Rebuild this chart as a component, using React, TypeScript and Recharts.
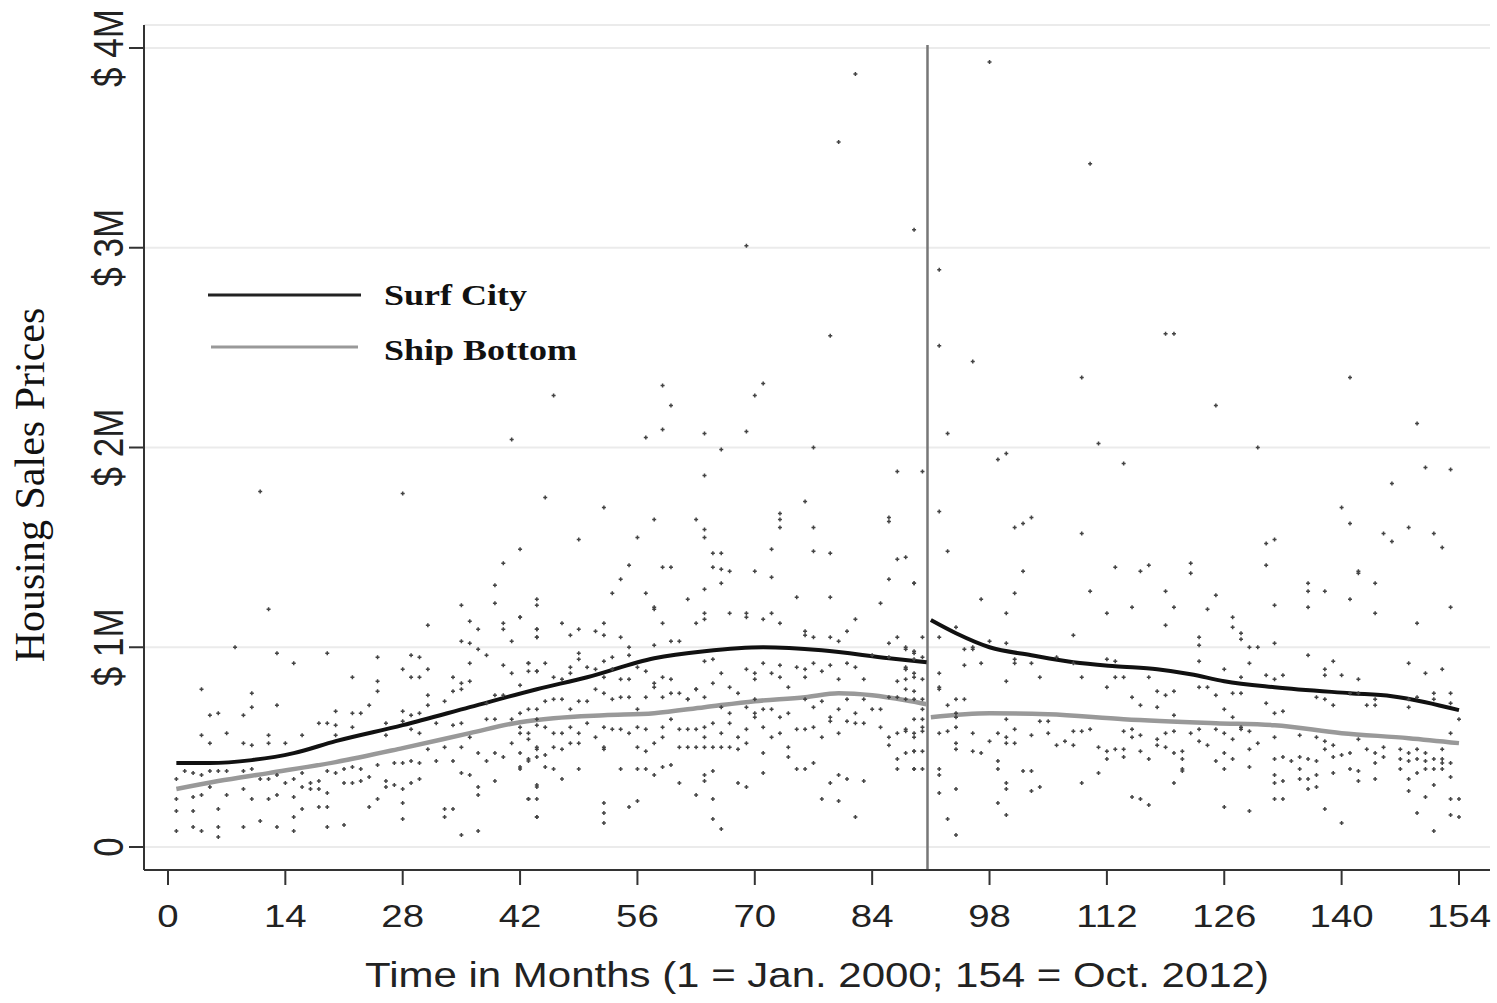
import {
  ComposedChart, Scatter, Line, XAxis, YAxis, CartesianGrid, ReferenceLine, Label,
} from 'recharts';

// fitted price curves, [month, price in $M]
const surfCityBefore = [
  [1, 0.42], [5, 0.42], [10, 0.435], [15, 0.47], [20, 0.53], [28, 0.61], [36, 0.7], [44, 0.79],
  [50, 0.85], [58, 0.945], [64, 0.98], [71, 1.0], [78, 0.985], [86, 0.945], [90.5, 0.925],
];
const surfCityAfter = [
  [91, 1.136], [94, 1.07], [98, 1.0], [103, 0.96], [108, 0.925], [113, 0.905], [118, 0.89],
  [122, 0.865], [126, 0.83], [132, 0.8], [141, 0.77], [146, 0.755], [150, 0.725], [154, 0.685],
];
const shipBottomBefore = [
  [1, 0.29], [6, 0.33], [12, 0.37], [20, 0.425], [28, 0.495], [36, 0.57], [42, 0.625], [46, 0.645],
  [52, 0.66], [58, 0.67], [64, 0.7], [70, 0.73], [76, 0.75], [80, 0.77], [84, 0.76], [88, 0.735], [90.5, 0.715],
];
const shipBottomAfter = [
  [91, 0.65], [98, 0.67], [105, 0.665], [114, 0.64], [125, 0.62], [132, 0.61], [140, 0.57], [148, 0.545], [154, 0.52],
];

// individual sales, [month, price in $M]
const salesEarly = [
  [40, 1.42], [39, 1.31], [39, 1.22], [35, 1.21], [42, 1.15], [12, 1.19], [31, 1.11], [36, 1.13], [37, 1.09], [40, 1.12],
  [40, 1.09], [44, 1.09], [44, 1.05], [8, 1.0], [13, 0.97], [15, 0.92], [19, 0.97], [25, 0.95], [29, 0.96], [30, 0.95],
  [35, 1.03], [36, 1.02], [37, 0.99], [38, 0.96], [41, 1.03], [36, 0.92], [40, 0.91], [43, 0.92], [44, 0.88], [4, 0.79],
  [10, 0.77], [22, 0.85], [25, 0.78], [25, 0.83], [28, 0.89], [29, 0.85], [30, 0.85], [31, 0.89], [34, 0.85], [35, 0.82],
  [36, 0.83], [42, 0.81], [41, 0.87], [43, 0.88],
  [5, 0.66], [6, 0.67], [9, 0.66], [10, 0.7], [13, 0.71], [20, 0.68], [22, 0.67], [23, 0.67], [24, 0.71], [26, 0.62],
  [28, 0.68], [29, 0.66], [30, 0.67], [31, 0.71], [31, 0.76], [33, 0.73], [34, 0.78], [35, 0.79], [38, 0.72], [39, 0.76], [40, 0.76],
  [4, 0.56], [5, 0.52], [7, 0.57], [9, 0.52], [10, 0.51], [12, 0.56], [12, 0.52], [14, 0.52], [16, 0.56], [18, 0.62],
  [19, 0.62], [20, 0.61], [20, 0.56], [22, 0.6], [26, 0.56], [28, 0.63], [29, 0.59], [30, 0.57], [32, 0.62], [34, 0.61],
  [35, 0.62], [38, 0.64], [39, 0.64], [41, 0.64], [42, 0.6], [43, 0.57], [44, 0.64],
  [1, 0.34], [2, 0.38], [3, 0.37], [4, 0.36], [5, 0.38], [6, 0.38], [7, 0.38], [9, 0.38], [10, 0.39], [11, 0.34],
  [12, 0.34], [13, 0.36], [14, 0.32], [15, 0.34], [16, 0.37], [17, 0.32], [18, 0.33], [19, 0.38], [20, 0.37], [21, 0.39],
  [22, 0.4], [23, 0.39], [24, 0.35], [25, 0.41], [26, 0.33], [27, 0.42], [28, 0.42], [29, 0.43], [30, 0.42], [31, 0.49],
  [32, 0.43], [33, 0.5], [34, 0.43], [35, 0.5], [36, 0.55], [37, 0.47], [38, 0.43], [39, 0.47], [40, 0.45], [41, 0.52],
  [42, 0.4], [43, 0.43], [44, 0.49], [44, 0.45],
  [1, 0.24], [1, 0.18], [3, 0.25], [3, 0.18], [4, 0.26], [5, 0.3], [6, 0.19], [7, 0.26], [9, 0.29], [10, 0.24],
  [12, 0.24], [13, 0.26], [15, 0.25], [16, 0.3], [17, 0.29], [18, 0.29], [19, 0.27], [21, 0.32], [22, 0.32], [23, 0.33],
  [25, 0.24], [26, 0.3], [27, 0.31], [28, 0.29], [28, 0.22], [29, 0.32], [30, 0.34], [33, 0.19], [34, 0.19], [35, 0.37],
  [36, 0.36], [37, 0.26], [37, 0.3], [39, 0.33], [43, 0.24], [44, 0.3], [44, 0.15],
  [1, 0.08], [3, 0.1], [4, 0.08], [6, 0.1], [6, 0.05], [9, 0.1], [11, 0.13], [13, 0.1], [15, 0.08], [15, 0.15],
  [16, 0.19], [18, 0.2], [19, 0.2], [19, 0.1], [21, 0.11], [24, 0.2], [28, 0.14], [33, 0.15], [35, 0.06], [37, 0.08],
];

const salesMid = [
  [45, 1.75], [52, 1.7], [58, 1.64], [63, 1.64], [64, 1.59], [64, 1.55], [73, 1.67], [73, 1.64], [73, 1.6], [76, 1.73],
  [77, 1.6], [49, 1.54], [56, 1.55], [86, 1.65], [86, 1.63], [65, 1.47], [66, 1.47], [65, 1.4], [66, 1.39], [67, 1.38],
  [70, 1.38], [72, 1.49], [77, 1.48], [79, 1.47], [72, 1.35], [87, 1.44], [88, 1.45], [86, 1.34], [89, 1.32], [55, 1.41],
  [59, 1.4], [60, 1.4], [54, 1.34], [44, 1.24], [44, 1.21], [53, 1.27], [57, 1.27], [62, 1.24], [64, 1.29], [66, 1.32],
  [75, 1.25], [79, 1.25], [85, 1.22], [42, 1.15], [47, 1.12], [49, 1.09], [51, 1.08], [52, 1.06], [52, 1.12], [54, 1.05],
  [58, 1.2], [58, 1.19], [59, 1.12], [60, 1.03], [61, 1.03], [63, 1.12], [64, 1.17], [64, 1.14], [67, 1.17], [69, 1.17],
  [69, 1.15], [71, 1.14], [72, 1.17], [73, 1.12], [82, 1.14], [81, 1.08], [76, 1.08], [76, 1.06], [77, 1.05], [79, 1.05],
  [80, 1.03], [87, 1.05], [86, 1.02], [88, 0.99], [44, 1.09], [44, 1.05], [48, 1.06], [49, 0.97], [55, 1.0], [55, 0.96],
  [52, 0.93], [53, 0.95], [58, 1.01], [90, 1.05], [89, 0.97], [88, 0.9],
  [43, 0.92], [44, 0.88], [45, 0.92], [46, 0.85], [47, 0.84], [48, 0.9], [48, 0.87], [49, 0.94], [50, 0.9], [51, 0.89],
  [52, 0.85], [53, 0.89], [54, 0.84], [55, 0.84], [56, 0.9], [57, 0.88], [58, 0.82], [59, 0.85], [60, 0.84], [61, 0.77],
  [62, 0.74], [63, 0.79], [64, 0.93], [65, 0.94], [65, 0.82], [66, 0.87], [67, 0.8], [68, 0.77], [69, 0.89], [70, 0.87],
  [70, 0.84], [71, 0.92], [72, 0.87], [73, 0.91], [73, 0.85], [74, 0.8], [75, 0.9], [76, 0.89], [76, 0.85], [77, 0.92],
  [78, 0.88], [79, 0.91], [80, 0.84], [81, 0.92], [82, 0.9], [83, 0.84], [84, 0.96], [86, 0.95], [87, 0.83], [88, 0.89],
  [89, 0.87], [90, 0.84],
  [42, 0.67], [43, 0.69], [44, 0.69], [45, 0.73], [46, 0.74], [47, 0.74], [48, 0.69], [49, 0.73], [50, 0.73], [51, 0.79],
  [52, 0.77], [53, 0.74], [54, 0.75], [55, 0.75], [56, 0.69], [57, 0.75], [58, 0.8], [59, 0.75], [60, 0.77], [62, 0.74],
  [63, 0.79], [64, 0.75], [66, 0.7], [67, 0.67], [69, 0.7], [70, 0.74], [70, 0.67], [71, 0.69], [72, 0.69], [73, 0.65],
  [74, 0.67], [76, 0.74], [77, 0.7], [78, 0.73], [79, 0.65], [80, 0.69], [81, 0.74], [82, 0.67], [83, 0.74], [84, 0.69],
  [85, 0.69], [86, 0.75], [87, 0.75], [88, 0.79], [89, 0.74], [90, 0.69],
  [42, 0.57], [43, 0.54], [44, 0.61], [45, 0.6], [46, 0.57], [47, 0.57], [48, 0.6], [49, 0.57], [50, 0.62], [51, 0.55],
  [52, 0.6], [52, 0.5], [53, 0.59], [54, 0.59], [55, 0.57], [56, 0.6], [57, 0.59], [59, 0.6], [59, 0.55], [60, 0.64],
  [61, 0.59], [62, 0.59], [63, 0.59], [64, 0.6], [64, 0.55], [65, 0.62], [66, 0.57], [67, 0.62], [68, 0.55], [69, 0.59],
  [70, 0.65], [71, 0.6], [72, 0.55], [73, 0.57], [74, 0.5], [75, 0.59], [76, 0.59], [77, 0.6], [78, 0.55], [79, 0.63],
  [80, 0.57], [81, 0.63], [82, 0.62], [83, 0.62], [85, 0.6], [86, 0.55], [87, 0.57], [88, 0.59], [89, 0.55], [90, 0.6],
  [42, 0.47], [43, 0.44], [44, 0.5], [45, 0.46], [46, 0.5], [47, 0.49], [48, 0.52], [49, 0.52], [52, 0.49], [56, 0.5],
  [57, 0.48], [58, 0.52], [61, 0.5], [62, 0.5], [63, 0.5], [64, 0.5], [65, 0.5], [66, 0.5], [67, 0.5], [68, 0.49],
  [69, 0.52], [71, 0.47], [74, 0.45], [86, 0.51], [87, 0.44], [89, 0.48],
  [42, 0.39], [45, 0.4], [46, 0.39], [47, 0.34], [49, 0.39], [54, 0.39], [56, 0.39], [57, 0.39], [58, 0.36], [59, 0.4],
  [60, 0.41], [61, 0.32], [64, 0.36], [64, 0.33], [65, 0.38], [68, 0.32], [69, 0.3], [71, 0.37], [75, 0.39], [76, 0.39],
  [77, 0.42], [79, 0.32], [80, 0.36], [81, 0.34], [83, 0.33], [87, 0.39], [89, 0.39], [90, 0.39],
  [43, 0.24], [44, 0.24], [44, 0.31], [44, 0.15], [52, 0.22], [52, 0.17], [52, 0.12], [55, 0.2], [56, 0.23], [63, 0.26],
  [65, 0.24], [65, 0.14], [66, 0.09], [78, 0.24], [80, 0.23], [82, 0.15],
  [88, 1.0], [89, 0.98], [89, 0.94], [88, 0.89], [89, 0.85], [88, 0.84], [89, 0.78], [88, 0.74], [89, 0.64], [88, 0.58],
  [89, 0.57], [89, 0.48], [88, 0.47], [89, 0.39], [90, 0.95], [90, 0.74], [90, 0.64], [90, 0.58], [90, 0.48],
];

const salesLate = [
  [102, 1.38], [113, 1.4], [116, 1.38], [117, 1.41], [122, 1.42], [122, 1.37], [131, 1.41], [142, 1.37], [144, 1.32], [136, 1.32],
  [136, 1.28], [138, 1.28], [110, 1.28], [119, 1.28], [101, 1.27], [97, 1.24], [115, 1.2], [120, 1.2], [124, 1.19], [125, 1.26],
  [112, 1.17], [100, 1.17], [132, 1.21], [136, 1.2], [141, 1.24], [144, 1.17], [153, 1.2], [119, 1.11], [127, 1.15], [127, 1.1],
  [128, 1.07], [128, 1.04], [149, 1.12], [108, 1.06], [94, 1.1], [92, 1.05], [123, 1.05], [123, 1.01], [129, 1.0], [130, 1.0],
  [132, 1.02], [136, 0.96], [98, 1.03], [96, 1.0], [95, 0.99], [100, 1.02],
  [97, 0.92], [95, 0.91], [101, 0.94], [101, 0.92], [103, 0.92], [104, 0.85], [100, 0.83], [106, 0.95], [108, 0.92], [109, 0.85],
  [112, 0.94], [113, 0.93], [113, 0.85], [114, 0.85], [117, 0.85], [112, 0.8], [118, 0.78], [119, 0.76], [120, 0.78], [115, 0.75],
  [116, 0.71], [118, 0.7], [120, 0.66], [123, 0.8], [124, 0.8], [123, 0.93], [126, 0.89], [125, 0.76], [126, 0.69], [127, 0.77],
  [128, 0.77], [127, 0.65], [128, 0.85], [129, 0.92], [131, 0.86], [132, 0.84], [133, 0.86], [131, 0.72], [132, 0.67], [133, 0.68],
  [138, 0.89], [139, 0.93], [138, 0.86], [140, 0.86], [142, 0.84], [137, 0.75], [138, 0.74], [139, 0.71], [141, 0.77], [142, 0.77],
  [143, 0.71], [144, 0.74], [144, 0.71], [148, 0.92], [150, 0.87], [152, 0.89], [148, 0.74], [149, 0.75], [151, 0.77], [151, 0.74],
  [153, 0.77], [153, 0.72], [154, 0.64], [148, 0.7],
  [92, 0.87], [92, 0.8], [92, 0.79], [94, 0.74], [95, 0.74], [96, 0.99], [93, 0.71], [94, 0.67], [94, 0.65],
  [92, 0.57], [93, 0.58], [94, 0.6], [94, 0.52], [94, 0.49], [96, 0.57], [96, 0.48], [97, 0.47], [98, 0.53], [99, 0.57],
  [100, 0.64], [100, 0.55], [100, 0.52], [101, 0.59], [101, 0.52], [103, 0.56], [104, 0.63], [105, 0.63], [105, 0.57], [106, 0.51],
  [107, 0.53], [108, 0.58], [108, 0.51], [109, 0.58], [110, 0.59], [111, 0.5], [112, 0.48], [112, 0.44], [113, 0.49], [114, 0.58],
  [114, 0.49], [114, 0.45], [115, 0.59], [115, 0.55], [116, 0.56], [116, 0.48], [117, 0.44], [118, 0.54], [118, 0.51], [119, 0.57],
  [119, 0.5], [120, 0.58], [120, 0.47], [121, 0.48], [121, 0.44], [122, 0.57], [123, 0.59], [123, 0.53], [124, 0.51], [125, 0.59],
  [125, 0.43], [126, 0.57], [126, 0.47], [126, 0.39], [127, 0.54], [127, 0.44], [128, 0.6], [128, 0.59], [129, 0.58], [129, 0.49],
  [130, 0.52], [132, 0.55], [132, 0.44], [133, 0.45], [134, 0.43], [135, 0.56], [135, 0.45], [136, 0.44], [137, 0.55], [137, 0.43],
  [138, 0.53], [138, 0.49], [139, 0.51], [139, 0.45], [140, 0.46], [141, 0.47], [142, 0.54], [143, 0.49], [144, 0.47], [144, 0.42],
  [145, 0.5], [145, 0.45], [147, 0.49], [147, 0.44], [148, 0.47], [148, 0.43], [149, 0.49], [149, 0.44], [150, 0.47], [150, 0.43],
  [151, 0.44], [152, 0.49], [152, 0.44], [153, 0.57], [153, 0.42],
  [92, 0.39], [92, 0.36], [92, 0.27], [94, 0.29], [99, 0.43], [99, 0.39], [99, 0.22], [100, 0.32], [100, 0.29], [100, 0.16],
  [102, 0.38], [103, 0.38], [103, 0.28], [104, 0.3], [109, 0.32], [111, 0.37], [115, 0.25], [116, 0.24], [117, 0.21], [120, 0.32],
  [121, 0.39], [121, 0.38], [126, 0.2], [129, 0.4], [129, 0.18], [132, 0.36], [132, 0.32], [132, 0.24], [133, 0.33], [133, 0.24],
  [135, 0.39], [135, 0.34], [136, 0.34], [136, 0.29], [137, 0.36], [137, 0.3], [138, 0.19], [139, 0.37], [140, 0.12], [141, 0.39],
  [142, 0.38], [142, 0.33], [144, 0.34], [147, 0.39], [148, 0.34], [148, 0.28], [149, 0.37], [149, 0.17], [150, 0.39], [150, 0.25],
  [151, 0.39], [151, 0.31], [151, 0.08], [152, 0.42], [152, 0.39], [153, 0.35], [153, 0.24], [153, 0.16], [154, 0.24], [154, 0.15],
  [93, 0.14], [94, 0.06],
];

const salesHigh = [
  [82, 3.87], [80, 3.53], [89, 3.09], [69, 3.01], [79, 2.56], [46, 2.26], [59, 2.31], [60, 2.21], [57, 2.05], [59, 2.09],
  [64, 2.07], [66, 1.99], [69, 2.08], [70, 2.26], [71, 2.32], [77, 2.0], [64, 1.86], [87, 1.88], [90, 1.88], [11, 1.78],
  [28, 1.77], [41, 2.04], [42, 1.49], [89, 1.32],
  [98, 3.93], [110, 3.42], [92, 2.89], [92, 2.51], [96, 2.43], [119, 2.57], [120, 2.57], [109, 2.35], [141, 2.35], [125, 2.21],
  [93, 2.07], [99, 1.94], [100, 1.97], [111, 2.02], [114, 1.92], [130, 2.0], [149, 2.12], [150, 1.9], [153, 1.89], [146, 1.82],
  [92, 1.68], [93, 1.48], [101, 1.6], [102, 1.62], [103, 1.65], [109, 1.57], [131, 1.52], [132, 1.54], [140, 1.7], [141, 1.62],
  [142, 1.38], [145, 1.57], [146, 1.53], [148, 1.6], [151, 1.57], [152, 1.5],
];

const xTicks = [0, 14, 28, 42, 56, 70, 84, 98, 112, 126, 140, 154];
const yTicks = [0, 1, 2, 3, 4];
const breakMonth = 90.6;

const toPoints = (rows: number[][]) => rows.map(([month, price]) => ({ month, price }));
const sales = toPoints([...salesEarly, ...salesMid, ...salesLate, ...salesHigh]);

const sansFont = '"Liberation Sans", Arial, sans-serif';
const serifFont = '"Liberation Serif", "Times New Roman", serif';

const SaleMark = (props: any) => {
  const { cx, cy } = props;
  if (cx == null || cy == null) return null;
  return <path d={`M${cx - 2},${cy}h4M${cx},${cy - 2}v4`} stroke="#444" strokeWidth={1.5} />;
};

const XTick = (props: any) => {
  const { x, y, payload } = props;
  return (
    <text transform={`translate(${x},${y + 42}) scale(1.2,1)`} textAnchor="middle"
      fontSize={32} fill="#222" fontFamily={sansFont}>
      {payload.value}
    </text>
  );
};

const YTick = (props: any) => {
  const { x, y, payload } = props;
  const v = payload.value;
  return (
    <text transform={`translate(${x - 6},${y}) scale(1.2,1) rotate(-90)`} textAnchor="middle"
      fontSize={35} fill="#222" fontFamily={sansFont}>
      {v === 0 ? '0' : `$ ${v}M`}
    </text>
  );
};

export default function App() {
  return (
    <div style={{ position: 'absolute', left: 0, top: 0, width: 1497, height: 1003, background: '#fff' }}>
      <ComposedChart width={1497} height={1003} margin={{ top: 25, right: 7, bottom: 73, left: 60 }}>
        <CartesianGrid vertical={false} stroke="#ebebeb" strokeWidth={2} />
        <XAxis
          dataKey="month" type="number" domain={[-2.86, 157.7]} ticks={xTicks} allowDataOverflow
          height={60} tickSize={15} tickMargin={0} tick={<XTick />}
          axisLine={{ stroke: '#333', strokeWidth: 2 }} tickLine={{ stroke: '#333', strokeWidth: 2 }}
        >
          <Label content={(p: any) => (
            <text transform={`translate(${p.viewBox.x + p.viewBox.width / 2},987) scale(1.2,1)`}
              textAnchor="middle" fontSize={35} fill="#222" fontFamily={sansFont}>
              Time in Months (1 = Jan. 2000; 154 = Oct. 2012)
            </text>
          )} />
        </XAxis>
        <YAxis
          dataKey="price" type="number" domain={[-0.1151, 4.1151]} ticks={yTicks} allowDataOverflow
          width={84} tickSize={15} tickMargin={0} tick={<YTick />}
          axisLine={{ stroke: '#333', strokeWidth: 2 }} tickLine={{ stroke: '#333', strokeWidth: 2 }}
        >
          <Label content={() => (
            <text transform="translate(44,485) rotate(-90)" textAnchor="middle"
              fontSize={42} fill="#111" fontFamily={serifFont}>
              Housing Sales Prices
            </text>
          )} />
        </YAxis>
        <Scatter data={sales} shape={<SaleMark />} isAnimationActive={false} />
        <ReferenceLine
          segment={[{ x: breakMonth, y: -0.1151 }, { x: breakMonth, y: 4.015 }]}
          stroke="#777" strokeWidth={2.5}
        />
        <Line data={toPoints(shipBottomBefore)} dataKey="price" type="monotone" stroke="#999"
          strokeWidth={4.5} dot={false} isAnimationActive={false} />
        <Line data={toPoints(shipBottomAfter)} dataKey="price" type="monotone" stroke="#999"
          strokeWidth={4.5} dot={false} isAnimationActive={false} />
        <Line data={toPoints(surfCityBefore)} dataKey="price" type="monotone" stroke="#111"
          strokeWidth={4} dot={false} isAnimationActive={false} />
        <Line data={toPoints(surfCityAfter)} dataKey="price" type="monotone" stroke="#111"
          strokeWidth={4} dot={false} isAnimationActive={false} />
      </ComposedChart>
      <svg width={420} height={100} style={{ position: 'absolute', left: 190, top: 265, pointerEvents: 'none' }}>
        <line x1={18} y1={30} x2={171} y2={30} stroke="#222" strokeWidth={3} />
        <text transform="translate(194,40) scale(1.2,1)" fontSize={30} fontWeight="bold" fill="#111" fontFamily={serifFont}>
          Surf City
        </text>
        <line x1={21} y1={82} x2={168} y2={82} stroke="#999" strokeWidth={3} />
        <text transform="translate(194,95) scale(1.2,1)" fontSize={30} fontWeight="bold" fill="#111" fontFamily={serifFont}>
          Ship Bottom
        </text>
      </svg>
    </div>
  );
}
